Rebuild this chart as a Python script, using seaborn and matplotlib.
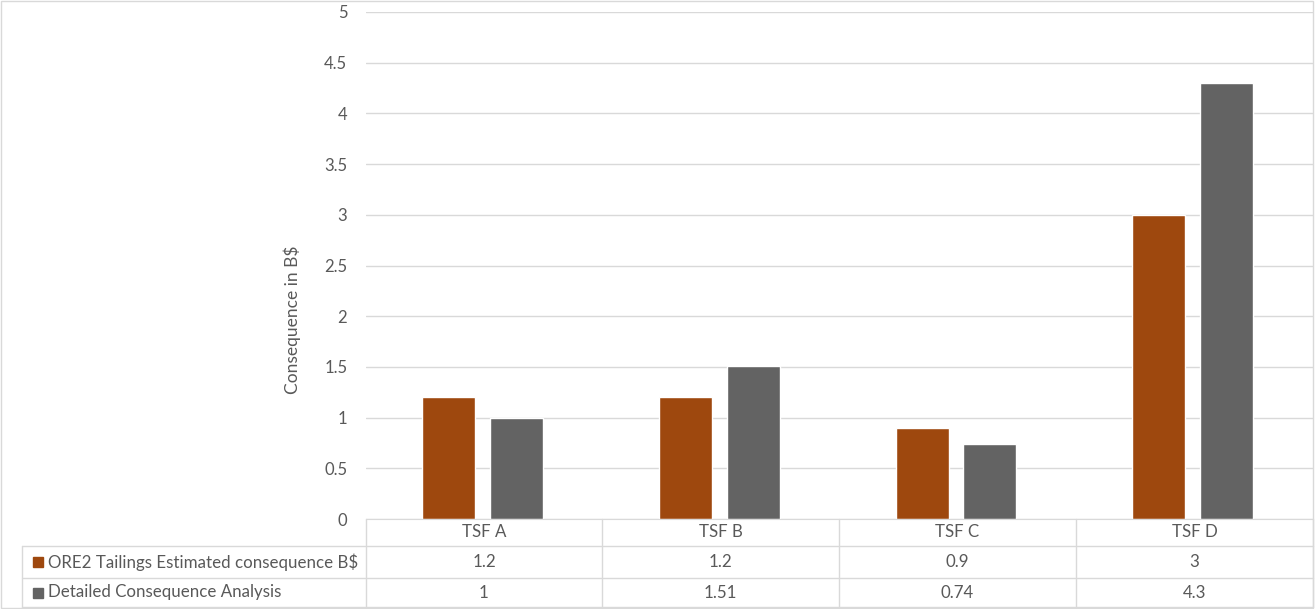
import matplotlib
matplotlib.use('Agg')
import matplotlib.pyplot as plt
import matplotlib.patches as mpatches
import pandas as pd
import seaborn as sns

# chart data
categories = ['TSF A', 'TSF B', 'TSF C', 'TSF D']
series_names = ['ORE2 Tailings Estimated consequence B$', 'Detailed Consequence Analysis']
ore2_values = [1.2, 1.2, 0.9, 3]
detailed_values = [1, 1.51, 0.74, 4.3]
table_labels = [['1.2', '1.2', '0.9', '3'], ['1', '1.51', '0.74', '4.3']]
y_ticks = [0, 0.5, 1, 1.5, 2, 2.5, 3, 3.5, 4, 4.5, 5]
y_tick_labels = ['0', '0.5', '1', '1.5', '2', '2.5', '3', '3.5', '4', '4.5', '5']

df = pd.DataFrame({
    'Facility': categories * 2,
    'Series': [series_names[0]] * 4 + [series_names[1]] * 4,
    'Value': ore2_values + detailed_values,
})

sns.set_style('white')
plt.rcParams['font.family'] = ['Lato', 'DejaVu Sans']

text_col = '#595959'
grid_col = '#d9d9d9'
palette = {series_names[0]: '#9e480e', series_names[1]: '#636363'}

W, H = 1315, 609
fig = plt.figure(figsize=(W / 100, H / 100), dpi=100)
left, right, top, bottom = 366, 1313, 12, 519
ax = fig.add_axes([left / W, 1 - bottom / H, (right - left) / W, (bottom - top) / H])

sns.barplot(data=df, x='Facility', y='Value', hue='Series', palette=palette,
            width=0.574, gap=0.22, ax=ax, legend=False, saturation=1)

ax.set_xlim(-0.492, 3.508)
ax.set_ylim(0, 5)
ax.set_yticks(y_ticks)
ax.set_yticklabels(y_tick_labels)
ax.yaxis.grid(True, color=grid_col, linewidth=1)
ax.set_axisbelow(True)
for s in ['top', 'right', 'left']:
    ax.spines[s].set_visible(False)
ax.spines['bottom'].set_color(grid_col)
ax.tick_params(axis='y', length=0, pad=13.5, labelsize=12, colors=text_col)
ax.set_xticks([])
ax.set_xlabel('')
ax.set_ylabel('')

# data table under the axes
def fy(py):
    return 1 - py / H

def fx(px):
    return px / W

# axis title, centred over plot area plus table like the original
fig.text(fx(292), fy(320), 'Consequence in B$', rotation=90, ha='center', va='center',
         fontsize=12.5, color=text_col)

row_edges = [519, 546, 578, 607]
col_edges = [366, 602, 839, 1076, 1313]
table_left = 22

line_kw = dict(color=grid_col, linewidth=1, transform=fig.transFigure)
# horizontal lines
for ry in row_edges[1:]:
    fig.add_artist(plt.Line2D([fx(table_left), fx(right)], [fy(ry), fy(ry)], **line_kw))
# vertical lines
for cx in col_edges:
    fig.add_artist(plt.Line2D([fx(cx), fx(cx)], [fy(519), fy(607)], **line_kw))
fig.add_artist(plt.Line2D([fx(table_left), fx(table_left)], [fy(546), fy(607)], **line_kw))

# header row
for i, cat in enumerate(categories):
    cx = (col_edges[i] + col_edges[i + 1]) / 2
    fig.text(fx(cx), fy(532), cat, ha='center', va='center', fontsize=12.2, color=text_col)

# series rows
for r, name in enumerate(series_names):
    ymid = (row_edges[r + 1] + row_edges[r + 2]) / 2
    fig.add_artist(mpatches.Rectangle((fx(33), fy(ymid + 5)), 10 / W, 10 / H,
                                      color=palette[name], transform=fig.transFigure))
    fig.text(fx(48), fy(ymid), name, ha='left', va='center', fontsize=12.2, color=text_col)
    for i, lab in enumerate(table_labels[r]):
        cx = (col_edges[i] + col_edges[i + 1]) / 2
        fig.text(fx(cx), fy(ymid), lab, ha='center', va='center', fontsize=12.2, color=text_col)

# outer chart border
fig.add_artist(mpatches.Rectangle((0.0005, 0.001), 0.998, 0.997, fill=False,
                                  edgecolor=grid_col, linewidth=1, transform=fig.transFigure))

fig.savefig('out.png', dpi=100)
